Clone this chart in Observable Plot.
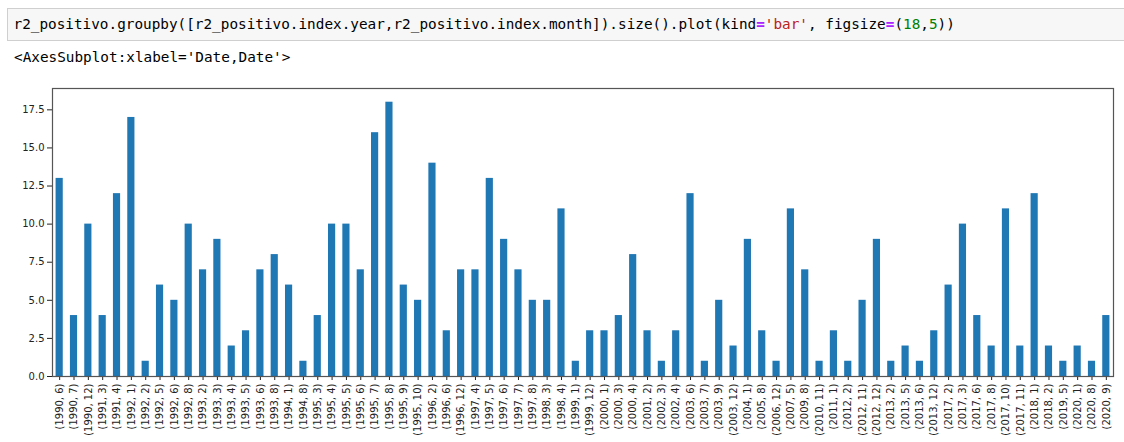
<!DOCTYPE html>
<html>
<head>
<meta charset="utf-8">
<script src="https://cdn.jsdelivr.net/npm/d3@7"></script>
<script src="https://cdn.jsdelivr.net/npm/@observablehq/plot@0.6"></script>
<style>
  html, body { margin: 0; padding: 0; background: #fff; width: 1124px; height: 442px; overflow: hidden; }
  .code {
    position: absolute; left: 7px; top: 8px; width: 1130px; height: 33px;
    box-sizing: border-box; background: #f7f7f7; border: 1px solid #cfcfcf;
    font-family: "DejaVu Sans Mono", monospace; font-size: 14.35px; color: #000;
    line-height: 31px; padding-left: 5.5px; white-space: pre;
  }
  .out {
    position: absolute; left: 14px; top: 47px;
    font-family: "DejaVu Sans Mono", monospace; font-size: 14.35px; color: #000;
    line-height: 20px; white-space: pre;
  }
  .op { color: #AA22FF; font-weight: bold; }
  .str { color: #BA2121; }
  .num { color: #008000; }
  #chart { position: absolute; left: 0; top: 80px; }
</style>
</head>
<body>
<div class="code">r2_positivo.groupby([r2_positivo.index.year,r2_positivo.index.month]).size().plot(kind<span class="op">=</span><span class="str">'bar'</span>, figsize<span class="op">=</span>(<span class="num">18</span>,<span class="num">5</span>))</div>
<div class="out">&lt;AxesSubplot:xlabel='Date,Date'&gt;</div>
<div id="chart"></div>
<script>
const labels = [
  "(1990, 6)","(1990, 7)","(1990, 12)","(1991, 3)","(1991, 4)","(1992, 1)","(1992, 2)","(1992, 5)","(1992, 6)","(1992, 8)",
  "(1993, 2)","(1993, 3)","(1993, 4)","(1993, 5)","(1993, 6)","(1993, 8)","(1994, 1)","(1994, 8)","(1995, 3)","(1995, 4)",
  "(1995, 5)","(1995, 6)","(1995, 7)","(1995, 8)","(1995, 9)","(1995, 10)","(1996, 2)","(1996, 6)","(1996, 12)","(1997, 4)",
  "(1997, 5)","(1997, 6)","(1997, 7)","(1997, 8)","(1998, 3)","(1998, 4)","(1999, 1)","(1999, 12)","(2000, 1)","(2000, 3)",
  "(2000, 4)","(2001, 2)","(2002, 3)","(2002, 4)","(2003, 6)","(2003, 7)","(2003, 9)","(2003, 12)","(2004, 1)","(2005, 8)",
  "(2006, 12)","(2007, 5)","(2009, 8)","(2010, 11)","(2011, 1)","(2012, 2)","(2012, 11)","(2012, 12)","(2013, 2)","(2013, 5)",
  "(2013, 6)","(2013, 12)","(2017, 2)","(2017, 3)","(2017, 6)","(2017, 8)","(2017, 10)","(2017, 11)","(2018, 1)","(2018, 2)",
  "(2019, 5)","(2020, 1)","(2020, 8)","(2020, 9)"
];
const counts = [
  13, 4, 10, 4, 12, 17, 1, 6, 5, 10,
  7, 9, 2, 3, 7, 8, 6, 1, 4, 10,
  10, 7, 16, 18, 6, 5, 14, 3, 7, 7,
  13, 9, 7, 5, 5, 11, 1, 3, 3, 4,
  8, 3, 1, 3, 12, 1, 5, 2, 9, 3,
  1, 11, 7, 1, 3, 1, 5, 9, 1, 2,
  1, 3, 6, 10, 4, 2, 11, 2, 12, 2,
  1, 2, 1, 4
];
const yTicks = [0, 2.5, 5, 7.5, 10, 12.5, 15, 17.5];

const data = labels.map((label, i) => ({label, count: counts[i]}));

const chart = Plot.plot({
  width: 1124,
  height: 366,
  marginTop: 8,
  marginLeft: 52,
  marginRight: 11,
  marginBottom: 70,
  style: {fontFamily: "DejaVu Sans, sans-serif", color: "#222", background: "transparent"},
  x: {domain: labels, paddingInner: 0.5, paddingOuter: 0.25, round: false, label: null},
  y: {domain: [0, 18.9], label: null},
  marks: [
    Plot.barY(data, {x: "label", y: "count", fill: "#1f77b4"}),
    Plot.axisX({tickRotate: -90, tickSize: 4, tickPadding: 3, fontSize: 10, label: null}),
    Plot.axisY({ticks: yTicks, tickFormat: d3.format(".1f"), tickSize: 5, tickPadding: 3, fontSize: 10, label: null}),
    Plot.frame({stroke: "#555", strokeWidth: 1.2})
  ]
});
document.getElementById("chart").appendChild(chart);
</script>
</body>
</html>
